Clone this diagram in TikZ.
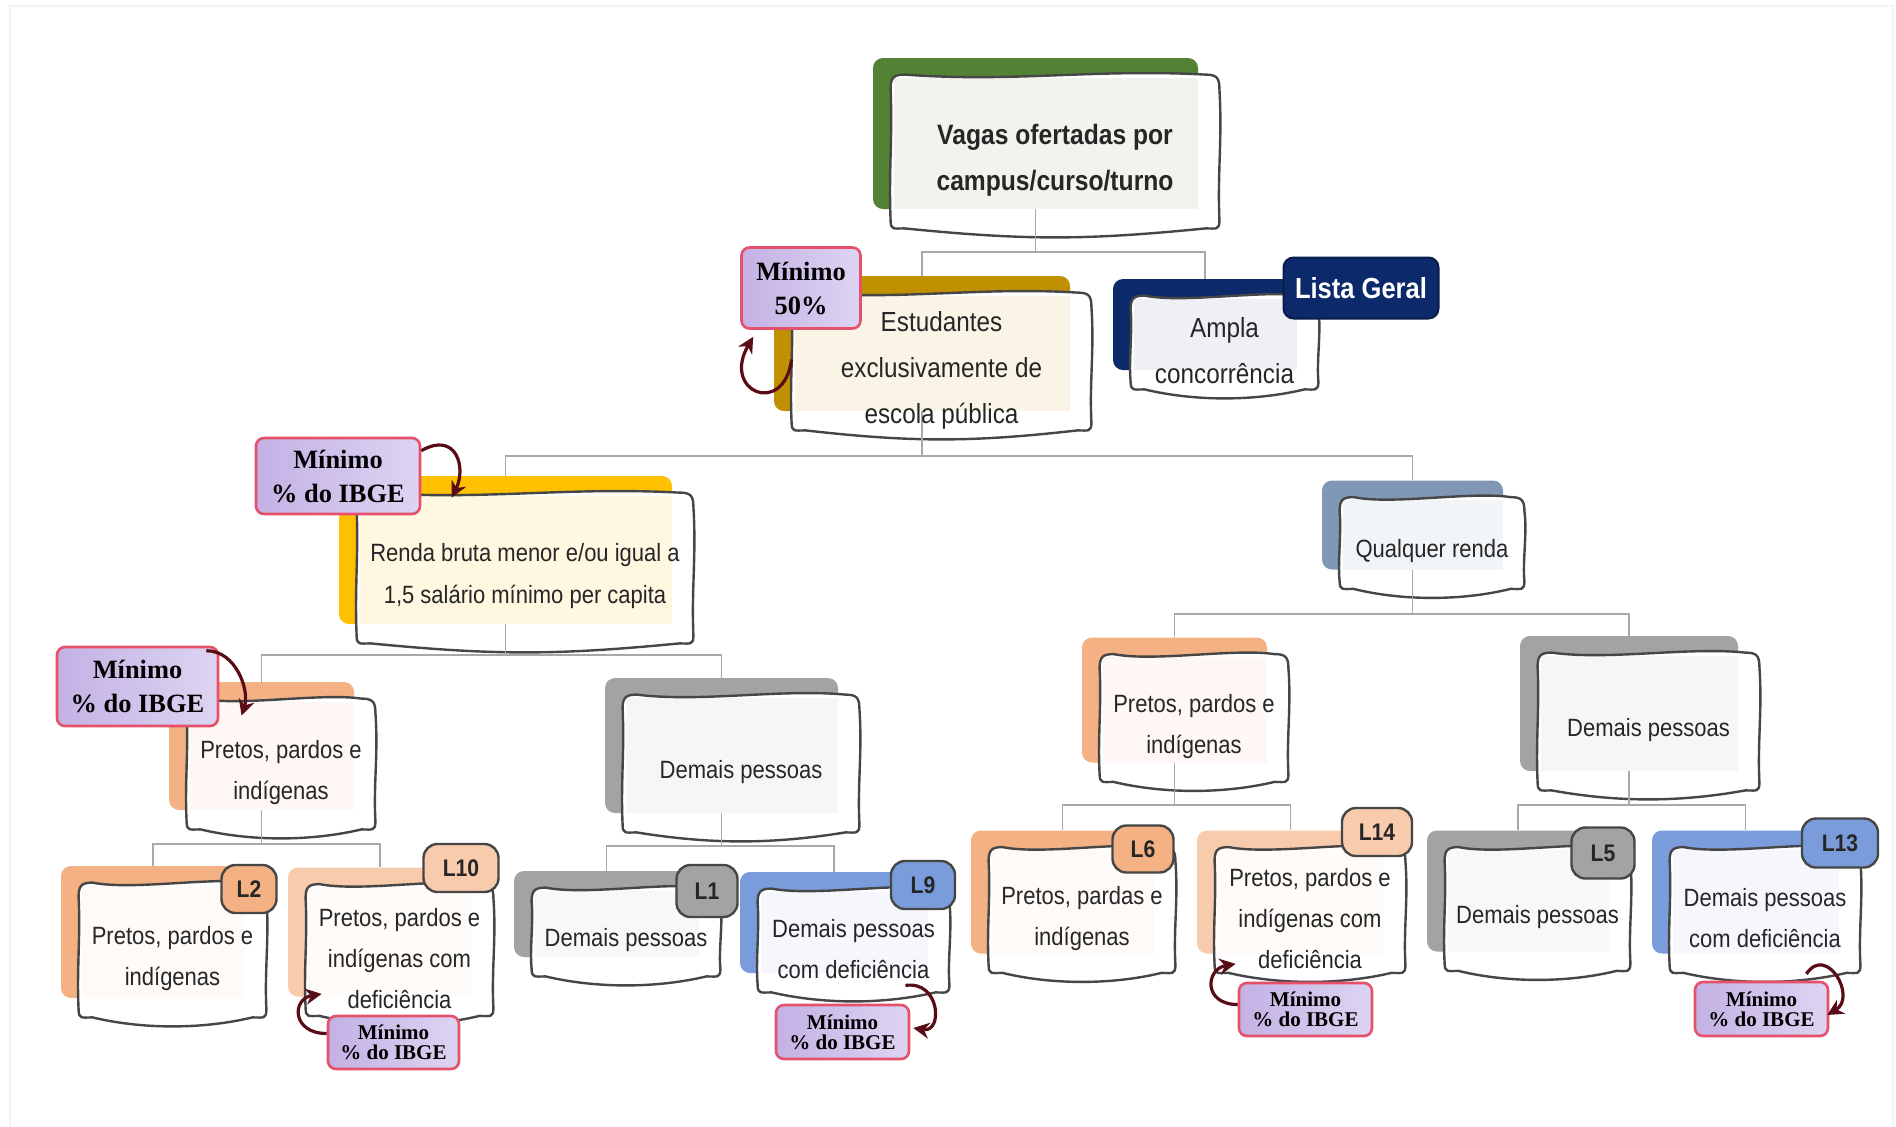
\documentclass[tikz,border=0pt]{standalone}
\usepackage{fontspec}
\setmainfont{Liberation Sans}[FakeStretch=0.88]
\newfontfamily\badgefont{Liberation Serif}
\usetikzlibrary{calc,arrows.meta}
\pgfdeclarelayer{lA}\pgfdeclarelayer{lB}\pgfdeclarelayer{lC}
\pgfsetlayers{lA,lB,lC,main}

\definecolor{txt}{HTML}{262626}
\definecolor{cGreen}{HTML}{548235}
\definecolor{cGold}{HTML}{BF9000}
\definecolor{cNavy}{HTML}{0C2A69}
\definecolor{cYellow}{HTML}{FFC000}
\definecolor{cSlate}{HTML}{8097B5}
\definecolor{cOrange}{HTML}{F4B183}
\definecolor{cPeach}{HTML}{F8CBAD}
\definecolor{cGrey}{HTML}{A3A3A3}
\definecolor{cBlue}{HTML}{7B9CDA}
\definecolor{outl}{HTML}{464646}
\definecolor{connc}{HTML}{A8A8A8}
\definecolor{bFillA}{HTML}{C3B1E4}
\definecolor{bFillB}{HTML}{DDD4F2}
\definecolor{bRed}{HTML}{E5506B}
\definecolor{arr}{HTML}{5A0C16}
\definecolor{frame}{HTML}{F4F4F4}

\tikzset{
  frontbox/.style={inner sep=0pt, align=center, text=txt},
  backbox/.style={rounded corners=5pt, inner sep=0pt},
  sketchline/.style={draw=outl, line width=1.2pt, line join=round},
  connector/.style={draw=connc, line width=0.8pt},
  minbadge/.style={draw=bRed, line width=1.3pt, left color=bFillA, right color=bFillB,
    rounded corners=4pt, align=center, inner sep=0pt, text=black},
  lbadge/.style={draw=outl, line width=1.2pt, rounded corners=7pt, inner sep=0pt, text=txt,
    font=\bfseries\fontsize{12}{12}\selectfont},
  curvarr/.style={draw=arr, line width=1.6pt, -{Stealth[length=8pt,width=8pt]}},
  sketch/.style={insert path={
    ($(#1.north west)+(0,14)$)
    .. controls ($(#1.north west)+(0,3)$) and ($(#1.north west)+(3,0)$) .. ($(#1.north west)+(14,0)$)
    .. controls ($(#1.north)+(-40,8)$) and ($(#1.north)+(40,-6)$) .. ($(#1.north east)+(-14,0)$)
    .. controls ($(#1.north east)+(-3,0)$) and ($(#1.north east)+(0,3)$) .. ($(#1.north east)+(0,14)$)
    .. controls ($(#1.east)+(3,-15)$) and ($(#1.east)+(-2,15)$) .. ($(#1.south east)+(0,-16)$)
    .. controls ($(#1.south east)+(0,-6)$) and ($(#1.south east)+(-3,-8)$) .. ($(#1.south east)+(-14,-8)$)
    .. controls ($(#1.south)+(30,4)$) and ($(#1.south)+(-30,4)$) .. ($(#1.south west)+(14,-8)$)
    .. controls ($(#1.south west)+(3,-8)$) and ($(#1.south west)+(0,-6)$) .. ($(#1.south west)+(0,-16)$)
    .. controls ($(#1.west)+(-2,15)$) and ($(#1.west)+(2,-15)$) .. ($(#1.north west)+(0,14)$) -- cycle
  }},
}

% name, cx, cy, w, h, colour, tint, font, text
\newcommand\cbox[9]{%
  \node[frontbox, minimum width=#4*0.5pt, minimum height=#5*0.5pt, font=#8] (#1) at (#2,#3) {\rule{0pt}{1.05em}#9};
  \begin{pgfonlayer}{lA}
    \node[backbox, fill=#6, minimum width=(#4-3)*0.5pt, minimum height=(#5-10)*0.5pt] (#1b) at ($(#1)+(-19.5,-22)$) {};
  \end{pgfonlayer}
  \begin{pgfonlayer}{lB}
    \path[fill=white] [sketch=#1];
    \fill[#7] ($(#1.north west)+(3,3)$) rectangle (#1b.south east);
    \path[sketchline] [sketch=#1];
  \end{pgfonlayer}
}
\newcommand\fntTop{\bfseries\fontsize{14}{23}\selectfont}
\newcommand\fntOne{\fontsize{13.8}{23}\selectfont}
\newcommand\fntTwo{\fontsize{12.5}{21}\selectfont}
\newcommand\fntLow{\fontsize{12.5}{20.5}\selectfont}
\newcommand\fntBadge{\badgefont\bfseries\fontsize{13.2}{17}\selectfont}
\newcommand\fntBadgeS{\badgefont\bfseries\fontsize{10.5}{10}\selectfont}

\begin{document}
\begin{tikzpicture}[x=0.5pt, y=-0.5pt]
\useasboundingbox (0,0) rectangle (1896,1126);
\begin{pgfonlayer}{lA}
\fill[white] (0,0) rectangle (1896,1126);
\draw[frame, line width=1pt] (10,1126) -- (10,6) -- (1893,6) -- (1893,1126);
\end{pgfonlayer}

% ---------- boxes ----------
\cbox{top}{1055}{155.5}{328}{161}{cGreen}{cGreen!9!white}{\fntTop}{Vagas ofertadas por\\campus/curso/turno}
\cbox{est}{941.5}{365.5}{299}{145}{cGold}{cGold!10!white}{\fntOne}{Estudantes\\exclusivamente de\\escola pública}
\cbox{ampla}{1224.5}{346.5}{187}{101}{cNavy}{cNavy!7!white}{\fntOne}{Ampla\\concorrência}
\cbox{renda}{525}{572}{336}{158}{cYellow}{cYellow!12!white}{\fntTwo}{Renda bruta menor e/ou igual a\\1,5 salário mínimo per capita}
\cbox{qual}{1432}{547}{184}{99}{cSlate}{cSlate!10!white}{\fntLow}{Qualquer renda}
\cbox{pretosL}{281}{768}{188}{138}{cOrange}{cOrange!10!white}{\fntLow}{Pretos, pardos e\\indígenas}
\cbox{demaisL}{741}{767.5}{236}{145}{cGrey}{cGrey!10!white}{\fntLow}{Demais pessoas}
\cbox{pretosR}{1194}{722}{188}{135}{cOrange}{cOrange!10!white}{\fntLow}{Pretos, pardos e\\indígenas}
\cbox{demaisR}{1648.5}{725.5}{221}{145}{cGrey}{cGrey!10!white}{\fntLow}{Demais pessoas}
\cbox{nL2}{172.5}{954}{187}{142}{cOrange}{cOrange!6!white}{\fntLow}{Pretos, pardos e\\indígenas}
\cbox{nL10}{399.5}{954}{187}{139}{cPeach}{cPeach!8!white}{\fntLow}{Pretos, pardos e\\indígenas com\\deficiência}
\cbox{nL1}{626}{936}{188}{96}{cGrey}{cGrey!8!white}{\fntLow}{Demais pessoas}
\cbox{nL9}{853.5}{944.5}{191}{111}{cBlue}{cBlue!8!white}{\fntLow}{Demais pessoas\\com deficiência}
\cbox{nL6}{1082}{914}{186}{133}{cOrange}{cOrange!6!white}{\fntLow}{Pretos, pardas e\\indígenas}
\cbox{nL14}{1310}{914}{190}{133}{cPeach}{cPeach!8!white}{\fntLow}{Pretos, pardos e\\indígenas com\\deficiência}
\cbox{nL5}{1537.5}{913}{185}{131}{cGrey}{cGrey!8!white}{\fntLow}{Demais pessoas}
\cbox{nL13}{1765}{914}{190}{133}{cBlue}{cBlue!8!white}{\fntLow}{Demais pessoas\\com deficiência}

% ---------- connectors ----------
\coordinate (bus1) at (0,252);
\coordinate (bus2) at (0,456);
\coordinate (bus3) at (0,655);
\coordinate (bus4) at (0,614);
\coordinate (bus5) at (0,844);
\coordinate (bus6) at (0,846);
\coordinate (bus7) at (0,805);
\begin{pgfonlayer}{lC}
\draw[connector] (topb.south) -- (topb.south |- bus1) -| (estb.north);
\draw[connector] (topb.south) -- (topb.south |- bus1) -| (amplab.north);
\draw[connector] (estb.south) -- (estb.south |- bus2) -| (rendab.north);
\draw[connector] (estb.south) -- (estb.south |- bus2) -| (qualb.north);
\draw[connector] (rendab.south) -- (rendab.south |- bus3) -| (pretosLb.north);
\draw[connector] (rendab.south) -- (rendab.south |- bus3) -| (demaisLb.north);
\draw[connector] (qualb.south) -- (qualb.south |- bus4) -| (pretosRb.north);
\draw[connector] (qualb.south) -- (qualb.south |- bus4) -| (demaisRb.north);
\draw[connector] (pretosLb.south) -- (pretosLb.south |- bus5) -| (nL2b.north);
\draw[connector] (pretosLb.south) -- (pretosLb.south |- bus5) -| (nL10b.north);
\draw[connector] (demaisLb.south) -- (demaisLb.south |- bus6) -| (nL1b.north);
\draw[connector] (demaisLb.south) -- (demaisLb.south |- bus6) -| (nL9b.north);
\draw[connector] (pretosRb.south) -- (pretosRb.south |- bus7) -| (nL6b.north);
\draw[connector] (pretosRb.south) -- (pretosRb.south |- bus7) -| (nL14b.north);
\draw[connector] (demaisRb.south) -- (demaisRb.south |- bus7) -| (nL5b.north);
\draw[connector] (demaisRb.south) -- (demaisRb.south |- bus7) -| (nL13b.north);
\end{pgfonlayer}

% ---------- badges ----------
\node[draw=cNavy!70!black, line width=1pt, fill=cNavy, rounded corners=5pt, text=white, inner sep=0pt,
  font=\bfseries\fontsize{14.5}{14.5}\selectfont, minimum width=155*0.5pt, minimum height=61*0.5pt] (lista) at (1361,288) {Lista Geral};

\node[minbadge, minimum width=119*0.5pt, minimum height=81*0.5pt, font=\fntBadge] (m50) at (801,288) {Mínimo\\50\%};
\node[minbadge, minimum width=164*0.5pt, minimum height=76*0.5pt, font=\fntBadge] (mRenda) at (338,476) {Mínimo\\\% do IBGE};
\node[minbadge, minimum width=161*0.5pt, minimum height=79*0.5pt, font=\fntBadge] (mPretos) at (137.5,686.5) {Mínimo\\\% do IBGE};
\node[minbadge, minimum width=131*0.5pt, minimum height=53*0.5pt, font=\fntBadgeS] (mL10) at (393.5,1042.5) {Mínimo\\\% do IBGE};
\node[minbadge, minimum width=133*0.5pt, minimum height=54*0.5pt, font=\fntBadgeS] (mL9) at (842.5,1032) {Mínimo\\\% do IBGE};
\node[minbadge, minimum width=133*0.5pt, minimum height=53*0.5pt, font=\fntBadgeS] (mL14) at (1305.5,1009.5) {Mínimo\\\% do IBGE};
\node[minbadge, minimum width=133*0.5pt, minimum height=54*0.5pt, font=\fntBadgeS] (mL13) at (1761.5,1009) {Mínimo\\\% do IBGE};

\node[lbadge, fill=cOrange, minimum width=55*0.5pt, minimum height=48*0.5pt] (tL2) at (249,889) {L2};
\node[lbadge, fill=cPeach, minimum width=75*0.5pt, minimum height=48*0.5pt] (tL10) at (461,868) {L10};
\node[lbadge, fill=cGrey, minimum width=61*0.5pt, minimum height=52*0.5pt] (tL1) at (707,891) {L1};
\node[lbadge, fill=cBlue, minimum width=64*0.5pt, minimum height=48*0.5pt] (tL9) at (923,885) {L9};
\node[lbadge, fill=cOrange, minimum width=61*0.5pt, minimum height=47*0.5pt] (tL6) at (1143,849) {L6};
\node[lbadge, fill=cPeach, minimum width=70*0.5pt, minimum height=48*0.5pt] (tL14) at (1377,832) {L14};
\node[lbadge, fill=cGrey, minimum width=63*0.5pt, minimum height=51*0.5pt] (tL5) at (1603,853) {L5};
\node[lbadge, fill=cBlue, minimum width=76*0.5pt, minimum height=49*0.5pt] (tL13) at (1840,843) {L13};

% ---------- curved arrows ----------
\draw[curvarr] ($(est.west)+(0,-6)$) .. controls +(-8,58) and +(-32,55) .. ($(m50.south west)+(13,7)$);
\draw[curvarr] ($(mRenda.north east)+(0,14)$) .. controls +(35,-20) and +(15,-30) .. ($(renda.north west)+(95,5)$);
\draw[curvarr] ($(mPretos.north east)+(-13,5)$) .. controls +(30,0) and +(8,-25) .. ($(pretosL.north west)+(55,17)$);
\draw[curvarr] ($(mL10.west)+(0,-9)$) .. controls +(-35,0) and +(-30,5) .. ($(nL10.south west)+(16,-30)$);
\draw[curvarr] ($(nL9.south east)+(-44,-15)$) .. controls +(35,-5) and +(30,5) .. ($(mL9.east)+(3,-4)$);
\draw[curvarr] ($(mL14.west)+(0,-5)$) .. controls +(-35,0) and +(-30,5) .. ($(nL14.south west)+(21,-17)$);
\draw[curvarr] ($(nL13.south east)+(-54,-7)$) .. controls +(20,-30) and +(30,-18) .. ($(mL13.east)+(-2,6)$);
\end{tikzpicture}
\end{document}
